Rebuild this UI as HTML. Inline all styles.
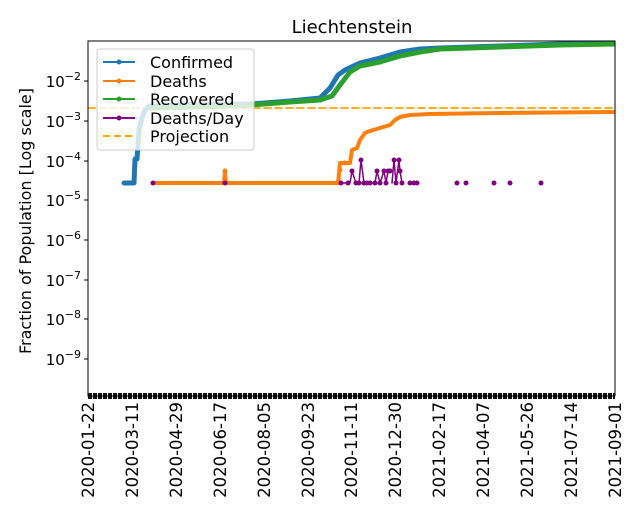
<!DOCTYPE html>
<html><head><meta charset="utf-8"><style>
body{margin:0;background:#fff}
svg{display:block;font-family:"DejaVu Sans","Liberation Sans",sans-serif}
</style></head><body>
<svg width="640" height="520" viewBox="0 0 640 520" xmlns="http://www.w3.org/2000/svg">
<rect width="640" height="520" fill="#fff"/>
<text x="352" y="33" font-size="18" text-anchor="middle">Liechtenstein</text>
<defs><clipPath id="c"><rect x="88" y="41" width="527" height="355"/></clipPath></defs>
<g clip-path="url(#c)" stroke-linejoin="round" stroke-linecap="round" fill="none">
<line x1="88" y1="108" x2="615" y2="108" stroke="#ffa500" stroke-width="1.8" stroke-dasharray="7,4"/>
<polyline stroke="#1f77b4" stroke-width="5" points="124,183 134,183 135,159 137,159 139,130 142,118 145,110 150,106 180,105 250,104 290,101 320,98 330,88 338,75 345,70 360,63 380,58 400,52 420,49 440,48 500,46 560,44 615,42"/>
<polyline stroke="#2ca02c" stroke-width="5" points="150,108 200,107 250,105 290,102 320,100 332,96 340,85 350,72 360,66 380,62 400,56 420,52 440,49 500,47 560,45 615,44"/>
<polyline stroke="#ff7f0e" stroke-width="4" points="153,183 224,183 225,171 226,183 338,183 340,163 350,163 352,150 357,148 360,140 365,133 370,131 380,128 390,125 395,120 400,117 410,115 430,114 500,113 615,112"/>
<g fill="#ff7f0e" stroke="none"><circle cx="225" cy="171" r="2.5"/><circle cx="340" cy="170" r="2.5"/><circle cx="345" cy="163" r="2.5"/></g>
<g stroke="#800080" stroke-width="1.5">
<polyline points="350,183 352,171 356,183"/>
<polyline points="359,183 361,160 364,183 375,183 377,171 380,183 384,171 386,183 388,171 390,171"/>
<polyline points="392,183 394,160 396,183 399,160 400,171 402,183"/>
<line x1="340" y1="183" x2="346" y2="183"/>
</g>
<g fill="#800080" stroke="none">
<circle cx="153" cy="183" r="2.5"/><circle cx="225" cy="183" r="2.5"/>
<circle cx="341" cy="183" r="2.5"/><circle cx="348" cy="183" r="2.5"/><circle cx="352" cy="171" r="2.5"/><circle cx="356" cy="183" r="2.5"/><circle cx="359" cy="183" r="2.5"/><circle cx="361" cy="160" r="2.5"/><circle cx="364" cy="183" r="2.5"/><circle cx="367" cy="183" r="2.5"/><circle cx="370" cy="183" r="2.5"/><circle cx="375" cy="183" r="2.5"/><circle cx="377" cy="171" r="2.5"/><circle cx="380" cy="183" r="2.5"/><circle cx="384" cy="171" r="2.5"/><circle cx="386" cy="183" r="2.5"/><circle cx="388" cy="171" r="2.5"/><circle cx="390" cy="171" r="2.5"/><circle cx="394" cy="160" r="2.5"/><circle cx="396" cy="183" r="2.5"/><circle cx="399" cy="160" r="2.5"/><circle cx="400" cy="171" r="2.5"/><circle cx="402" cy="183" r="2.5"/><circle cx="410" cy="183" r="2.5"/><circle cx="414" cy="183" r="2.5"/><circle cx="417" cy="183" r="2.5"/><circle cx="457" cy="183" r="2.5"/><circle cx="466" cy="183" r="2.5"/><circle cx="494" cy="183" r="2.5"/><circle cx="510" cy="183" r="2.5"/><circle cx="541" cy="183" r="2.5"/>
</g>
</g>
<line x1="88" y1="396" x2="615" y2="396" stroke="#111" stroke-width="6" stroke-dasharray="4,1"/>
<rect x="88" y="41" width="527" height="355" fill="none" stroke="#000" stroke-width="1"/>
<g stroke="#000" stroke-width="1">
<line x1="84" y1="81" x2="88" y2="81"/><line x1="84" y1="121" x2="88" y2="121"/><line x1="84" y1="161" x2="88" y2="161"/><line x1="84" y1="200" x2="88" y2="200"/><line x1="84" y1="240" x2="88" y2="240"/><line x1="84" y1="280" x2="88" y2="280"/><line x1="84" y1="319" x2="88" y2="319"/><line x1="84" y1="359" x2="88" y2="359"/>
</g>
<g font-size="15" text-anchor="end">
<text x="81" y="87">10<tspan font-size="11" dy="-7">−2</tspan></text>
<text x="81" y="127">10<tspan font-size="11" dy="-7">−3</tspan></text>
<text x="81" y="167">10<tspan font-size="11" dy="-7">−4</tspan></text>
<text x="81" y="206">10<tspan font-size="11" dy="-7">−5</tspan></text>
<text x="81" y="246">10<tspan font-size="11" dy="-7">−6</tspan></text>
<text x="81" y="286">10<tspan font-size="11" dy="-7">−7</tspan></text>
<text x="81" y="325">10<tspan font-size="11" dy="-7">−8</tspan></text>
<text x="81" y="365">10<tspan font-size="11" dy="-7">−9</tspan></text>
</g>
<text transform="translate(31,221) rotate(-90)" font-size="16" text-anchor="middle">Fraction of Population [Log scale]</text>
<g font-size="16.5" text-anchor="end">
<text transform="translate(94,402) rotate(-90)">2020-01-22</text>
<text transform="translate(138,402) rotate(-90)">2020-03-11</text>
<text transform="translate(182,402) rotate(-90)">2020-04-29</text>
<text transform="translate(226,402) rotate(-90)">2020-06-17</text>
<text transform="translate(270,402) rotate(-90)">2020-08-05</text>
<text transform="translate(314,402) rotate(-90)">2020-09-23</text>
<text transform="translate(357,402) rotate(-90)">2020-11-11</text>
<text transform="translate(401,402) rotate(-90)">2020-12-30</text>
<text transform="translate(445,402) rotate(-90)">2021-02-17</text>
<text transform="translate(489,402) rotate(-90)">2021-04-07</text>
<text transform="translate(533,402) rotate(-90)">2021-05-26</text>
<text transform="translate(577,402) rotate(-90)">2021-07-14</text>
<text transform="translate(621,402) rotate(-90)">2021-09-01</text>
</g>
<rect x="97" y="49" width="157" height="101" rx="3" fill="#fff" fill-opacity="0.8" stroke="#ccc"/>
<g stroke-width="2">
<line x1="103" y1="62" x2="135" y2="62" stroke="#1f77b4"/><circle cx="119" cy="62" r="2.5" fill="#1f77b4"/>
<line x1="103" y1="81" x2="135" y2="81" stroke="#ff7f0e"/><circle cx="119" cy="81" r="2.5" fill="#ff7f0e"/>
<line x1="103" y1="99" x2="135" y2="99" stroke="#2ca02c"/><circle cx="119" cy="99" r="2.5" fill="#2ca02c"/>
<line x1="103" y1="118" x2="135" y2="118" stroke="#800080"/><circle cx="119" cy="118" r="2.5" fill="#800080"/>
<line x1="103" y1="136" x2="135" y2="136" stroke="#ffa500" stroke-dasharray="7,4"/>
</g>
<g font-size="16">
<text x="150" y="68">Confirmed</text>
<text x="150" y="87">Deaths</text>
<text x="150" y="105">Recovered</text>
<text x="150" y="124">Deaths/Day</text>
<text x="150" y="142">Projection</text>
</g>
</svg>
</body></html>
